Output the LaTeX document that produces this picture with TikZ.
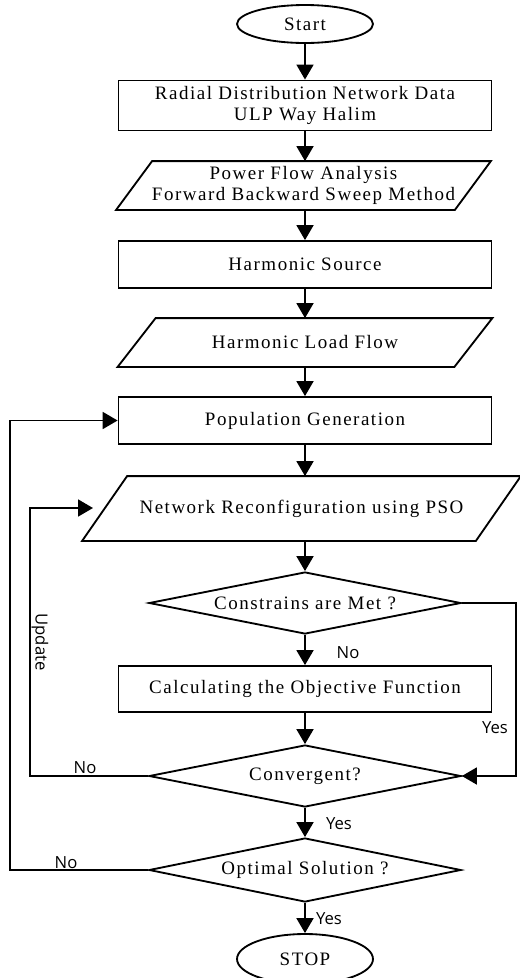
\documentclass[tikz,border=0pt]{standalone}
\usepackage{fontspec}
\setmainfont{Liberation Serif}[LetterSpace=8]
\setsansfont{Open Sans}
\usetikzlibrary{shapes.geometric,arrows.meta}

% parallelogram round a plain node: top edge shifted right by #2
\newcommand{\drawpara}[2]{%
	\draw ([xshift=#2]#1.north west) -- (#1.north east) -- ([xshift=-#2]#1.south east) -- (#1.south west) -- cycle;}

\begin{document}
\begin{tikzpicture}[x=0.02cm,y=-0.02cm,line width=1.05pt,
		>={Triangle[length=3mm,width=3.4mm]},
		every node/.style={font=\fontsize{10.8}{12}\selectfont},
		block/.style={rectangle,draw,minimum width=7.46cm,minimum height=0.94cm,align=center},
		paranode/.style={rectangle,minimum height=0.94cm,align=center,inner sep=0pt},
		decision/.style={diamond,draw,aspect=5,inner sep=0pt,minimum width=6.24cm,minimum height=1.24cm},
		terminal/.style={ellipse,draw,minimum width=2.72cm,minimum height=0.76cm},
		lbl/.style={font=\sffamily\fontsize{9.5}{11}\selectfont,inner sep=1pt}]
				\useasboundingbox (0,0) rectangle (520,978);
				
				\node[terminal] (start) at (305,24) {Start};
				\node[block,minimum height=0.9cm] (netdata) at (305,105.5) {Radial Distribution Network Data\\ULP Way Halim};
				\node[paranode,minimum width=7.46cm] (powerflow) at (303.5,185.5) {Power Flow Analysis\\Forward Backward Sweep Method};
				\node[block] (harmsource) at (305,264.5) {Harmonic Source};
				\node[paranode,minimum width=7.46cm] (harmflow) at (305,342.5) {Harmonic Load Flow};
				\node[block] (popgen) at (305,420.5) {Population Generation};
				\node[paranode,minimum width=8.74cm,minimum height=1.26cm] (reconfig) at (301.5,508.5) {Network Reconfiguration using PSO};
				\node[decision] (constr) at (305,603) {Constrains are Met ?};
				\node[block,minimum height=0.92cm] (objfunc) at (305,689) {Calculating the Objective Function};
				\node[decision] (converg) at (305,776) {Convergent?};
				\node[decision,minimum height=1.28cm] (optimal) at (305,870) {Optimal Solution ?};
				\node[terminal,minimum height=1cm] (stop) at (305,959) {STOP};
				
				\drawpara{powerflow}{0.72cm}
				\drawpara{harmflow}{0.76cm}
				\drawpara{reconfig}{0.9cm}
				
				\draw[->] (start) -- (netdata);
				\draw[->] (netdata) -- (netdata |- powerflow.north);
				\draw[->] (netdata |- powerflow.south) -- (harmsource);
				\draw[->] (harmsource) -- (harmflow.north);
				\draw[->] (harmflow.south) -- (popgen);
				\draw[->] (popgen) -- (popgen |- reconfig.north);
				\draw[->] (popgen |- reconfig.south) -- (constr);
				\draw[->] (constr) -- (objfunc);
				\draw[->] (objfunc) -- (converg);
				\draw[->] (converg) -- (optimal);
				\draw[->] (optimal) -- (stop);
				
				% loops back
				\coordinate (rightbend) at (516,690);
				\coordinate (updbend) at (30,640);
				\coordinate (updend) at (93,508);
				\coordinate (popbend) at (10,650);
				\draw[->] (constr.east) -| (rightbend) |- (converg.east);
				\draw[->] (converg.west) -| (updbend) |- (updend);
				\draw[->] (optimal.west) -| (popbend) |- (popgen.west);
				
				\node[lbl] (noconstr) at (348,653) {No};
				\node[lbl] (yesconstr) at (495,728) {Yes};
				\node[lbl] (noconv) at (85,768) {No};
				\node[lbl,rotate=-90] (update) at (40,642) {Update};
				\node[lbl] (yesconv) at (339,824) {Yes};
				\node[lbl] (nooptim) at (66,863) {No};
				\node[lbl] (yesoptim) at (329,919) {Yes};
			\end{tikzpicture}
\end{document}
